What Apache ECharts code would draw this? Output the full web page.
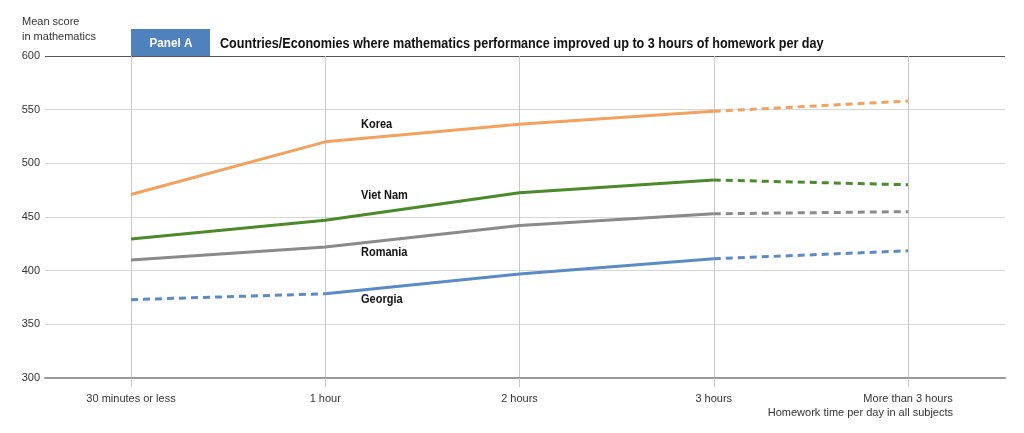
<!DOCTYPE html>
<html><head><meta charset="utf-8">
<script src="https://cdn.jsdelivr.net/npm/echarts@6/dist/echarts.min.js"></script>
<style>html,body{margin:0;padding:0;background:#fff}#c{width:1024px;height:433px}</style>
</head><body><div id="c"></div>
<script>
const categories = ['30 minutes or less', '1 hour', '2 hours', '3 hours', 'More than 3 hours'];
const korea   = [471, 520, 536.5, 548.5, 558];
const vietNam = [429.5, 447, 472.5, 484.5, 480];
const romania = [410, 422, 442, 453, 455];
const georgia = [373, 378.5, 397, 411, 418.5];
// segments drawn dashed: [fromIndex, toIndex]
const koreaDashed = [[3, 4]];
const vietNamDashed = [[3, 4]];
const romaniaDashed = [[3, 4]];
const georgiaDashed = [[0, 1], [3, 4]];
const yTicks = [300, 350, 400, 450, 500, 550, 600];

const FONT = '"Liberation Sans", Arial, sans-serif';
const countries = [
  {name: 'Korea', vals: korea, dashed: koreaDashed, color: '#f2a15e'},
  {name: 'Viet Nam', vals: vietNam, dashed: vietNamDashed, color: '#4b8a2a'},
  {name: 'Romania', vals: romania, dashed: romaniaDashed, color: '#8a8a8a'},
  {name: 'Georgia', vals: georgia, dashed: georgiaDashed, color: '#5a8bc4'}
];

function split(vals, dashed) {
  const n = vals.length;
  const dashSeg = new Array(n - 1).fill(false);
  dashed.forEach(([a]) => dashSeg[a] = true);
  const solid = vals.map((v, i) => {
    const left = i > 0 && !dashSeg[i - 1];
    const right = i < n - 1 && !dashSeg[i];
    return (left || right) ? v : null;
  });
  const dash = vals.map((v, i) => {
    const left = i > 0 && dashSeg[i - 1];
    const right = i < n - 1 && dashSeg[i];
    return (left || right) ? v : null;
  });
  return {solid, dash};
}

const series = [];
countries.forEach(c => {
  const s = split(c.vals, c.dashed);
  series.push({type: 'line', name: c.name, xAxisIndex: 1, yAxisIndex: 1, data: s.solid,
    symbol: 'none', connectNulls: false, lineStyle: {color: c.color, width: 3}, silent: true});
  series.push({type: 'line', name: c.name + ' dashed', xAxisIndex: 1, yAxisIndex: 1, data: s.dash,
    symbol: 'none', connectNulls: false, lineStyle: {color: c.color, width: 3, type: [7, 5]}, silent: true});
});

function label(text, x, y) {
  return {type: 'text', x: x, y: y, scaleX: 0.88,
    style: {text: text, font: 'bold 12.5px ' + FONT, fill: '#111', textVerticalAlign: 'middle'}};
}

const chart = echarts.init(document.getElementById('c'));
chart.setOption({
  animation: false,
  textStyle: {fontFamily: FONT},
  grid: [
    {left: 45, right: 19, top: 56, bottom: 55},
    {left: 131, right: 116, top: 56, bottom: 55}
  ],
  xAxis: [
    {gridIndex: 0, type: 'value', min: 0, max: 1, axisLabel: {show: false}, axisTick: {show: false},
      splitLine: {show: false}, axisLine: {show: true, lineStyle: {color: '#9a9a9a', width: 2}},
      name: 'Homework time per day in all subjects', nameLocation: 'end',
      nameTextStyle: {fontFamily: FONT, fontSize: 11, color: '#333', align: 'right', verticalAlign: 'top',
        padding: [29, 52, 0, 0]}, nameGap: 0},
    {gridIndex: 1, type: 'category', data: categories, boundaryGap: false,
      axisLine: {show: false},
      axisTick: {show: true, length: 9, lineStyle: {color: '#c8c8c8'}},
      axisLabel: {color: '#333', fontSize: 11, fontFamily: FONT, margin: 15, interval: 0},
      splitLine: {show: true, lineStyle: {color: '#c8c8c8', width: 1}}}
  ],
  yAxis: [
    {gridIndex: 0, type: 'value', min: 300, max: 600, interval: 50,
      axisLine: {show: false}, axisTick: {show: false},
      axisLabel: {color: '#333', fontSize: 11, fontFamily: FONT, margin: 5,
        formatter: v => yTicks.includes(v) ? String(v) : ''},
      splitLine: {show: true, lineStyle: {color: ['#9a9a9a', '#d6d6d6', '#d6d6d6', '#d6d6d6', '#d6d6d6', '#d6d6d6', '#555'], width: 1}}},
    {gridIndex: 1, type: 'value', min: 300, max: 600, interval: 50, show: false, splitLine: {show: false}}
  ],
  graphic: [
    {type: 'text', left: 22, top: 14, style: {text: 'Mean score\nin mathematics', font: '11px ' + FONT, fill: '#333', lineHeight: 15}},
    {type: 'rect', shape: {x: 131, y: 29, width: 79, height: 27}, style: {fill: '#4f81bd'}},
    {type: 'text', x: 171, y: 43, scaleX: 0.9, style: {text: 'Panel A', font: 'bold 13px ' + FONT, fill: '#fff', textAlign: 'center', textVerticalAlign: 'middle'}},
    {type: 'text', x: 220, y: 44, scaleX: 0.9, style: {text: 'Countries/Economies where mathematics performance improved up to 3 hours of homework per day', font: 'bold 14px ' + FONT, fill: '#111', textVerticalAlign: 'middle'}},
    label('Korea', 361, 125),
    label('Viet Nam', 361, 196),
    label('Romania', 361, 253),
    label('Georgia', 361, 300)
  ],
  series: series
});
</script></body></html>
